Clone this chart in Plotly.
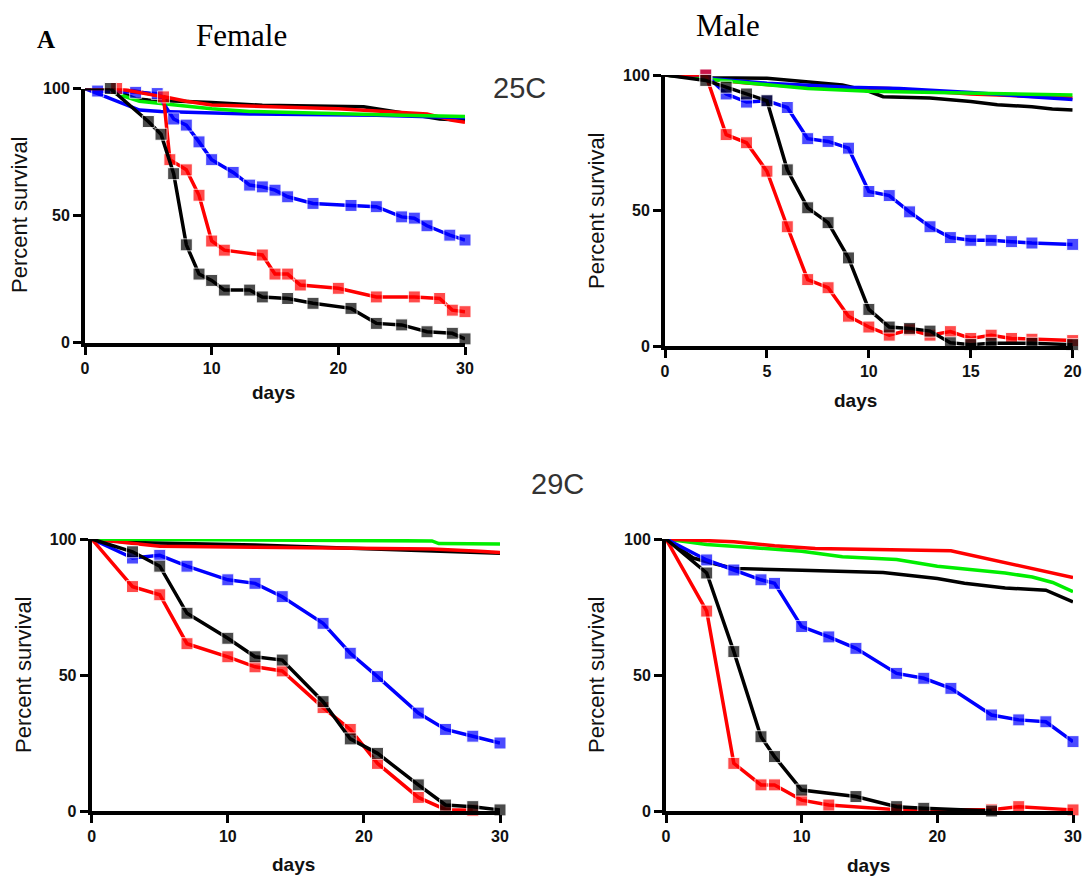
import plotly.graph_objects as go

W, H = 1087, 878

# ---------------- Female 25C ----------------
f25_ctl_black_d = [0, 2, 3, 4, 5, 8, 10, 14, 22, 25, 28, 30]
f25_ctl_black_p = [100, 100, 98, 96, 95.5, 95, 94.5, 93.4, 92.8, 90.5, 88, 87.5]
f25_ctl_red_d = [0, 2.5, 4, 6, 8, 10, 14, 20, 27, 29, 30]
f25_ctl_red_p = [100, 100, 99, 97, 95, 93.5, 93, 92, 90, 87.5, 86.7]
f25_ctl_blue_d = [0, 2, 4.3, 6, 13, 23, 28, 30]
f25_ctl_blue_p = [100, 96, 91.5, 91, 90, 89.5, 89, 88.5]
f25_ctl_green_d = [0, 2, 4.3, 7, 10, 13, 20, 25, 30]
f25_ctl_green_p = [100, 98.7, 95, 93.5, 92, 91, 90, 89.5, 89]
f25_blue_d = [0, 1, 4, 5.7, 7, 8, 9, 10, 11.7, 13, 14, 15, 16, 18, 21, 23, 25, 26, 27, 28.8, 30]
f25_blue_p = [100, 99, 98.5, 98, 88, 85.6, 79, 72, 67, 62, 61.3, 60, 57.4, 54.8, 54, 53.5, 49.5, 49, 46, 42.3, 40.4]
f25_red_d = [0, 2.5, 6.2, 6.7, 8, 9, 10, 11, 14, 15, 16, 17, 20, 23, 26, 28, 29, 30]
f25_red_p = [100, 100, 96.7, 72, 68, 58, 40, 36.4, 34.5, 27, 27, 22.7, 21.4, 18, 18, 17.4, 12.8, 12.2]
f25_black_d = [0, 2, 5, 6, 7, 8, 9, 10, 11, 13, 14, 16, 18, 21, 23, 25, 27, 29, 30]
f25_black_p = [100, 100, 87, 82, 66.5, 38.5, 27, 24.5, 20.7, 20.7, 18, 17.4, 15.5, 13.5, 7.6, 7, 4.3, 3.7, 1.5]

# ---------------- Male 25C ----------------
m25_ctl_black_d = [0, 2, 5, 8.7, 10, 10.7, 13, 15, 16.3, 18, 19, 20]
m25_ctl_black_p = [100, 99, 98.8, 96.3, 94, 92, 91.5, 90.2, 89, 88.3, 87.5, 87.1]
m25_ctl_red_d = [0, 4, 7, 11, 15, 18, 20]
m25_ctl_red_p = [100, 97, 95.5, 95, 93, 92, 91.5]
m25_ctl_blue_d = [0, 5, 9, 11.5, 15, 20]
m25_ctl_blue_p = [100, 97, 95.5, 95, 93.5, 91]
m25_ctl_green_d = [0, 7, 10, 15, 20]
m25_ctl_green_p = [100, 95, 94, 93.2, 92.6]
m25_blue_d = [0, 2, 3, 4, 5, 6, 7, 8, 9, 10, 11, 12, 13, 14, 15, 16, 17, 18, 20]
m25_blue_p = [100, 100, 93, 90, 90.5, 88, 76.5, 75.5, 73, 57, 55.5, 49.5, 44, 40, 39, 39, 38.5, 38, 37.5]
m25_red_d = [0, 2, 3, 4, 5, 6, 7, 8, 9, 10, 11, 12, 13, 14, 15, 16, 17, 18, 20]
m25_red_p = [100, 100, 78, 75, 64.5, 44, 24.5, 21.5, 11, 7, 4, 6, 4, 5.3, 2.8, 4, 2.8, 2.5, 2]
m25_black_d = [0, 2, 3, 4, 5, 6, 7, 8, 9, 10, 11, 12, 13, 14, 15, 16, 18, 20]
m25_black_p = [100, 98, 95.5, 93, 90.5, 65, 51, 45.5, 32.5, 13.5, 7, 6.5, 5.5, 1.2, 0.5, 1, 1, 0.5]

# ---------------- Female 29C ----------------
f29_ctl_black_d = [0, 3, 12, 18, 24, 28, 30]
f29_ctl_black_p = [100, 98.7, 97.8, 96.8, 96, 95.3, 94.8]
f29_ctl_red_d = [0, 3, 5, 12, 18, 25, 28.5, 30]
f29_ctl_red_p = [100, 98.5, 97.3, 97, 96.8, 96.3, 95.5, 95]
f29_ctl_green_d = [0, 10, 25, 25.5, 30]
f29_ctl_green_p = [100, 99.8, 99.3, 98.3, 98.2]
f29_blue_d = [0, 3, 5, 7, 10, 12, 14, 17, 19, 21, 24, 26, 28, 30]
f29_blue_p = [100, 93, 94, 90, 85, 83.7, 78.8, 69, 58, 49.4, 36, 30, 27.5, 25]
f29_red_d = [0, 3, 5, 7, 10, 12, 14, 17, 19, 21, 24, 26, 28]
f29_red_p = [100, 82.5, 79.5, 61.5, 56.7, 53, 51.5, 38, 30, 17.5, 5, 0.5, 0.3]
f29_black_d = [0, 3, 5, 7, 10, 12, 14, 17, 19, 21, 24, 26, 28, 30]
f29_black_p = [100, 95.3, 90, 72.7, 63.5, 56.7, 55.5, 40.2, 26.5, 21.2, 9.6, 2.2, 1.6, 0.4]

# ---------------- Male 29C ----------------
m29_ctl_black_d = [0, 2, 3.5, 5, 10, 16, 20, 22, 25, 28, 30]
m29_ctl_black_p = [100, 93, 91, 89.2, 88.5, 87.7, 85.5, 83.7, 82, 81.2, 76.9]
m29_ctl_green_d = [0, 3, 6, 10, 13, 17, 20, 23, 25, 27, 28.5, 30]
m29_ctl_green_p = [100, 98, 97, 95.5, 93.5, 92.5, 90, 88.5, 87.5, 86, 84, 80.6]
m29_ctl_red_d = [0, 5, 8, 11, 21, 23, 25, 27, 28.5, 30]
m29_ctl_red_p = [100, 99, 97.5, 96.5, 95.7, 93.5, 91.2, 89, 87.5, 85.8]
m29_blue_d = [0, 3, 5, 7, 8, 10, 12, 14, 17, 19, 21, 24, 26, 28, 30]
m29_blue_p = [100, 92.3, 88.6, 85, 83.7, 67.8, 64, 59.8, 50.6, 48.8, 45.1, 35.3, 33.5, 32.8, 25.5]
m29_red_d = [0, 3, 5, 7, 8, 10, 12, 17, 24, 26, 30]
m29_red_p = [100, 73.5, 17.5, 9.6, 9.6, 4, 2.2, 0.5, 0.5, 1.6, 0.4]
m29_black_d = [0, 3, 5, 7, 8, 10, 14, 17, 19, 24]
m29_black_p = [100, 87.5, 58.6, 27.3, 20, 7.7, 5.3, 1.6, 1, 0]

x_ticks_30 = [0, 10, 20, 30]
x_ticks_20 = [0, 5, 10, 15, 20]
y_ticks = [0, 50, 100]

RED, BLUE, BLACK, GREEN = "#ff0000", "#0000ff", "#000000", "#00ee00"

panels = [
    dict(px=(85, 465), py=(88.5, 342.7), xmax=30, xt=x_ticks_30,
         ctl=[(f25_ctl_black_d, f25_ctl_black_p, BLACK), (f25_ctl_red_d, f25_ctl_red_p, RED),
              (f25_ctl_blue_d, f25_ctl_blue_p, BLUE), (f25_ctl_green_d, f25_ctl_green_p, GREEN)],
         trt=[(f25_blue_d, f25_blue_p, BLUE), (f25_red_d, f25_red_p, RED), (f25_black_d, f25_black_p, BLACK)],
         ylab=(19, 215), xlab=(273, 392)),
    dict(px=(665, 1072.7), py=(75, 346), xmax=20, xt=x_ticks_20,
         ctl=[(m25_ctl_black_d, m25_ctl_black_p, BLACK), (m25_ctl_red_d, m25_ctl_red_p, RED),
              (m25_ctl_blue_d, m25_ctl_blue_p, BLUE), (m25_ctl_green_d, m25_ctl_green_p, GREEN)],
         trt=[(m25_blue_d, m25_blue_p, BLUE), (m25_red_d, m25_red_p, RED), (m25_black_d, m25_black_p, BLACK)],
         ylab=(597, 210), xlab=(855, 400)),
    dict(px=(91.7, 500), py=(539, 811), xmax=30, xt=x_ticks_30,
         ctl=[(f29_ctl_black_d, f29_ctl_black_p, BLACK), (f29_ctl_red_d, f29_ctl_red_p, RED),
              (f29_ctl_green_d, f29_ctl_green_p, GREEN)],
         trt=[(f29_blue_d, f29_blue_p, BLUE), (f29_red_d, f29_red_p, RED), (f29_black_d, f29_black_p, BLACK)],
         ylab=(23, 675), xlab=(293, 864)),
    dict(px=(666, 1073), py=(539, 811), xmax=30, xt=x_ticks_30,
         ctl=[(m29_ctl_black_d, m29_ctl_black_p, BLACK), (m29_ctl_green_d, m29_ctl_green_p, GREEN),
              (m29_ctl_red_d, m29_ctl_red_p, RED)],
         trt=[(m29_blue_d, m29_blue_p, BLUE), (m29_red_d, m29_red_p, RED), (m29_black_d, m29_black_p, BLACK)],
         ylab=(596, 675), xlab=(868, 865)),
]


def fx(px):
    return px / W


def fy(py):
    return 1 - py / H


fig = go.Figure()
annotations = []
TICKFONT = dict(family="Liberation Sans, Arial", size=16, color="#111", weight="bold")

layout_axes = {}
for i, p in enumerate(panels, start=1):
    xa = "x" if i == 1 else f"x{i}"
    ya = "y" if i == 1 else f"y{i}"
    for d, v, c in p["ctl"]:
        fig.add_trace(go.Scatter(x=d, y=v, mode="lines", line=dict(color=c, width=3.5),
                                 xaxis=xa, yaxis=ya, showlegend=False, hoverinfo="skip"))
    for d, v, c in p["trt"]:
        sizes = [0] + [12] * (len(d) - 1)
        fig.add_trace(go.Scatter(x=d, y=v, mode="lines+markers", line=dict(color=c, width=3.5),
                                 marker=dict(symbol="square", size=sizes, color=c),
                                 cliponaxis=False, xaxis=xa, yaxis=ya, showlegend=False,
                                 hoverinfo="skip"))
    x0, x1 = p["px"]
    ytop, ybot = p["py"]
    common = dict(showline=True, linewidth=4, linecolor="black", ticks="outside", ticklen=8,
                  tickwidth=3, tickcolor="black", showgrid=False, zeroline=False,
                  tickfont=TICKFONT, fixedrange=True, automargin=False)
    layout_axes["xaxis" if i == 1 else f"xaxis{i}"] = dict(
        domain=[fx(x0), fx(x1)], range=[0, p["xmax"]], tickvals=p["xt"],
        anchor=ya, **common)
    layout_axes["yaxis" if i == 1 else f"yaxis{i}"] = dict(
        domain=[fy(ybot), fy(ytop)], range=[0, 100], tickvals=y_ticks,
        anchor=xa, **common)
    annotations.append(dict(text="Percent survival", x=fx(p["ylab"][0]), y=fy(p["ylab"][1]),
                            xref="paper", yref="paper", showarrow=False, textangle=-90,
                            font=dict(family="Liberation Sans, Arial", size=22, color="#111"),
                            xanchor="center", yanchor="middle"))
    annotations.append(dict(text="days", x=fx(p["xlab"][0]), y=fy(p["xlab"][1]),
                            xref="paper", yref="paper", showarrow=False,
                            font=dict(family="Liberation Sans, Arial", size=19, color="#111",
                                      weight="bold"),
                            xanchor="center", yanchor="middle"))

titles = [
    ("A", 46, 39, dict(family="Liberation Serif, Times New Roman", size=25, color="black", weight="bold")),
    ("Female", 241, 36, dict(family="Liberation Serif, Times New Roman", size=31, color="black")),
    ("Male", 728, 25, dict(family="Liberation Serif, Times New Roman", size=31, color="black")),
    ("25C", 519, 88, dict(family="Liberation Sans, Arial", size=29, color="#333")),
    ("29C", 557, 484, dict(family="Liberation Sans, Arial", size=29, color="#333")),
]
for t, x, y, f in titles:
    annotations.append(dict(text=t, x=fx(x), y=fy(y), xref="paper", yref="paper",
                            showarrow=False, font=f, xanchor="center", yanchor="middle"))

fig.update_layout(width=W, height=H, margin=dict(l=0, r=0, t=0, b=0, autoexpand=False),
                  paper_bgcolor="white", plot_bgcolor="white",
                  annotations=annotations, **layout_axes)

fig.write_html("out.html", config={"displayModeBar": False},
               post_script="document.body.style.margin='0';document.body.style.overflow='hidden';")
